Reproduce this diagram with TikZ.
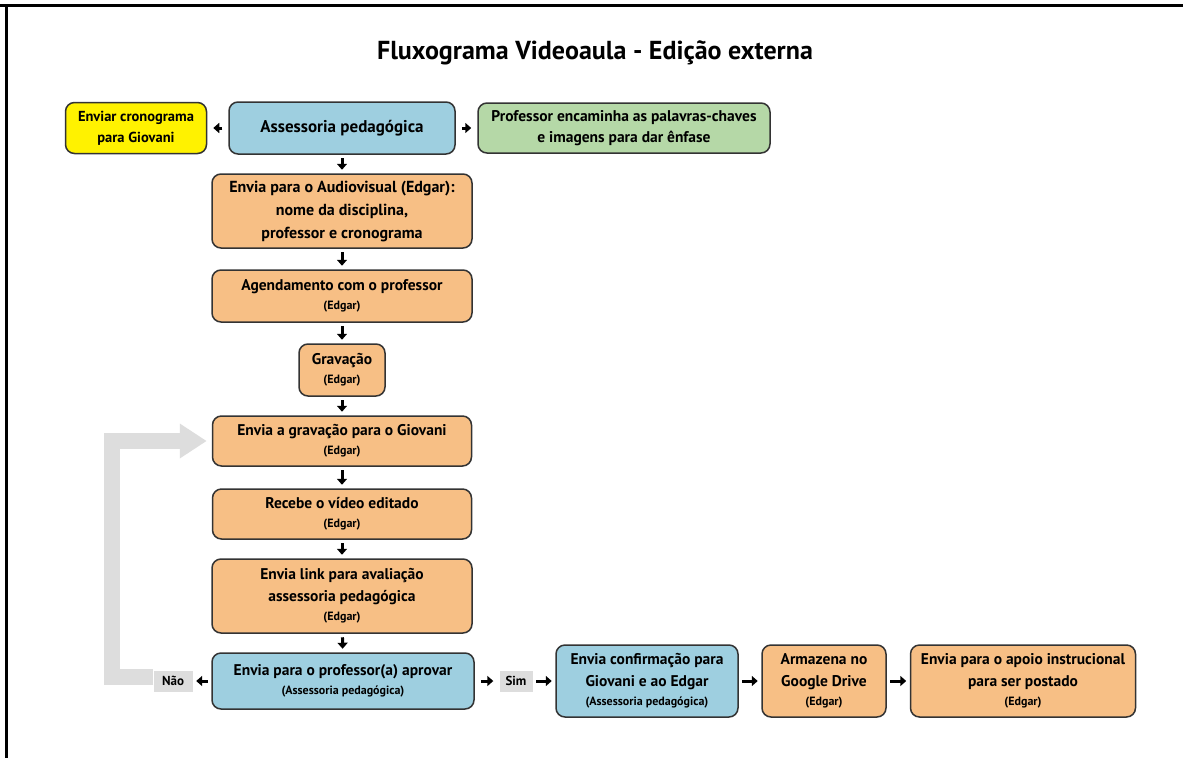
\documentclass[tikz,border=0pt]{standalone}
\usepackage{fontspec}
\setmainfont{PT Sans}
\usetikzlibrary{arrows.meta}

\definecolor{laranja}{HTML}{F7BF85}
\definecolor{azul}{HTML}{9ECFE0}
\definecolor{amarelo}{HTML}{FFF200}
\definecolor{verde}{HTML}{B5D8A7}
\definecolor{contorno}{HTML}{333333}
\definecolor{cinza}{HTML}{DDDDDD}

\newcommand{\resp}[1]{\\[-3pt]{\fontsize{12}{14}\selectfont #1}}

\begin{document}
\begin{tikzpicture}[
    x=1pt, y=-1pt,
    every node/.style={font=\bfseries\fontsize{15.5}{22}\selectfont, align=center, inner sep=2pt},
    etapa/.style={draw=contorno, line width=1.5pt, rounded corners=9pt},
    laranjabox/.style={etapa, fill=laranja},
    azulbox/.style={etapa, fill=azul},
    rotulo/.style={fill=cinza, inner sep=0pt, font=\bfseries\fontsize{13}{15}\selectfont},
    seta/.style={-{Triangle[length=6pt,width=10pt]}, line width=3pt, shorten <=3.5pt, shorten >=3.5pt},
    retorno/.style={-{Triangle[length=27pt,width=33pt]}, line width=16pt, draw=cinza, line join=miter, shorten >=5pt}
]
\useasboundingbox (0,0) rectangle (1183,758);
\fill[white] (0,0) rectangle (1183,758);
\draw[line width=3pt] (0,5) -- (1183,5);
\draw[line width=3pt] (6,5) -- (6,758);

\node[font=\bfseries\fontsize{26}{30}\selectfont] (titulo) at (595,53) {Fluxograma Videoaula - Edição externa};

% linha do topo
\node[azulbox, minimum width=226pt, minimum height=52pt, font=\bfseries\fontsize{17}{20}\selectfont] (asses) at (342,128) {Assessoria pedagógica};
\node[etapa, fill=amarelo, minimum width=141pt, minimum height=51pt, font=\bfseries\fontsize{14.5}{21}\selectfont] (cronog) at (136,128) {Enviar cronograma\\para Giovani};
\node[etapa, fill=verde, minimum width=292pt, minimum height=50pt, font=\bfseries\fontsize{15.5}{21}\selectfont] (palavras) at (624,128) {Professor encaminha as palavras-chaves\\e imagens para dar ênfase};

% coluna central
\node[laranjabox, minimum width=260pt, minimum height=74pt, font=\bfseries\fontsize{16}{23}\selectfont] (audio) at (342,211) {Envia para o Audiovisual (Edgar):\\nome da disciplina,\\professor e cronograma};
\node[laranjabox, minimum width=260pt, minimum height=52pt] (agenda) at (342,296) {Agendamento com o professor\resp{(Edgar)}};
\node[laranjabox, minimum width=86pt, minimum height=52pt] (grava) at (342,370) {Gravação\resp{(Edgar)}};
\node[laranjabox, minimum width=259pt, minimum height=50pt] (envgrav) at (342,441) {Envia a gravação para o Giovani\resp{(Edgar)}};
\node[laranjabox, minimum width=259pt, minimum height=50pt] (recebe) at (342,514) {Recebe o vídeo editado\resp{(Edgar)}};
\node[laranjabox, minimum width=260pt, minimum height=74pt] (link) at (342,596) {Envia link para avaliação\\assessoria pedagógica\resp{(Edgar)}};
\node[azulbox, minimum width=262pt, minimum height=56pt] (aprovar) at (343,681) {Envia para o professor(a) aprovar\resp{(Assessoria pedagógica)}};

% respostas
\node[rotulo, minimum width=39pt, minimum height=21pt] (nao) at (173,681) {Não};
\node[rotulo, minimum width=33pt, minimum height=21pt] (sim) at (516,681) {Sim};

% linha de baixo
\node[azulbox, minimum width=182pt, minimum height=72pt] (confirma) at (647,681) {Envia confirmação para\\Giovani e ao Edgar\resp{(Assessoria pedagógica)}};
\node[laranjabox, minimum width=124pt, minimum height=72pt] (armazena) at (824,681) {Armazena no\\Google Drive\resp{(Edgar)}};
\node[laranjabox, minimum width=225pt, minimum height=72pt] (apoio) at (1023,681) {Envia para o apoio instrucional\\para ser postado\resp{(Edgar)}};

% setas
\draw[seta, shorten <=6pt, shorten >=6pt] (asses) -- (cronog);
\draw[seta, shorten <=6pt, shorten >=6pt] (asses) -- (palavras);
\draw[seta] (asses) -- (audio);
\draw[seta] (audio) -- (agenda);
\draw[seta] (agenda) -- (grava);
\draw[seta] (grava) -- (envgrav);
\draw[seta] (envgrav) -- (recebe);
\draw[seta] (recebe) -- (link);
\draw[seta] (link) -- (aprovar);
\draw[seta] (aprovar) -- (nao);
\draw[seta, shorten <=6pt, shorten >=6pt] (aprovar) -- (sim);
\draw[seta] (sim) -- (confirma);
\draw[seta] (confirma) -- (armazena);
\draw[seta] (armazena) -- (apoio);

\coordinate (canto) at (112,441);
\draw[retorno] ([yshift=4pt]nao.west) -| (canto) -- (envgrav.west);
\end{tikzpicture}
\end{document}
